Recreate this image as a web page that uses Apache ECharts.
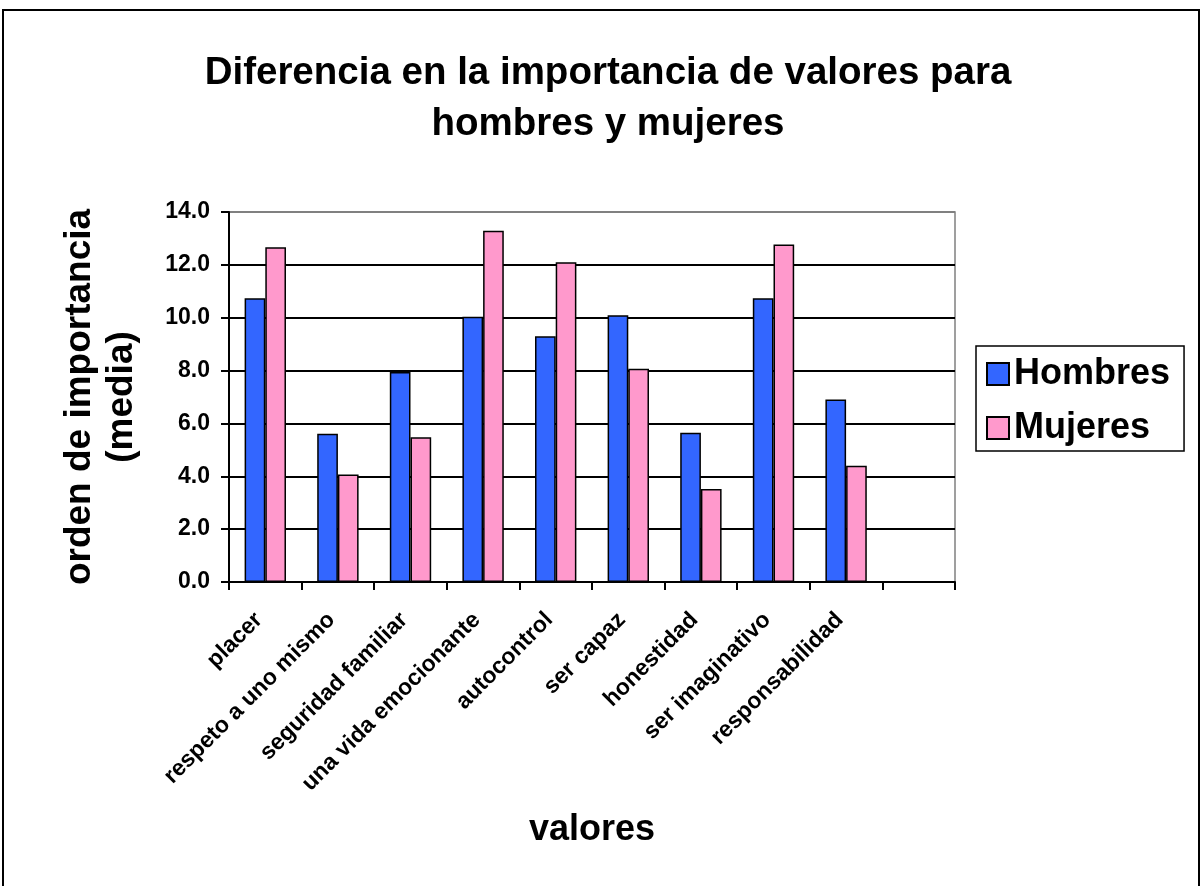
<!DOCTYPE html>
<html>
<head>
<meta charset="utf-8">
<script src="https://cdn.jsdelivr.net/npm/echarts@6/dist/echarts.min.js"></script>
<style>
  html, body { margin: 0; padding: 0; background: #fff; }
  #chart { width: 1202px; height: 886px; }
</style>
</head>
<body>
<div id="chart"></div>
<script>
// categorías (la última columna está vacía en el original)
var categorias = ['placer', 'respeto a uno mismo', 'seguridad familiar', 'una vida emocionante',
  'autocontrol', 'ser capaz', 'honestidad', 'ser imaginativo', 'responsabilidad', ''];
var hombres = [10.74, 5.61, 7.95, 10.04, 9.30, 10.09, 5.65, 10.74, 6.91, '-'];
var mujeres = [12.67, 4.07, 5.48, 13.29, 12.10, 8.07, 3.52, 12.77, 4.40, '-'];
var yTicks = { min: 0, max: 14, interval: 2 };

var fuente = 'Arial, "Liberation Sans", sans-serif';

var chart = echarts.init(document.getElementById('chart'), null, { renderer: 'canvas' });

chart.setOption({
  backgroundColor: '#ffffff',
  animation: false,
  title: {
    text: 'Diferencia en la importancia de valores para\nhombres y mujeres',
    left: 603,
    top: 43,
    textAlign: 'center',
    textStyle: {
      fontFamily: fuente,
      fontWeight: 'bold',
      fontSize: 38.5,
      lineHeight: 51,
      color: '#000'
    }
  },
  legend: {
    orient: 'vertical',
    left: 976,
    top: 346,
    padding: [10, 14, 5, 10],
    borderColor: '#000',
    borderWidth: 1.5,
    itemWidth: 22,
    itemHeight: 22,
    itemGap: 18,
    icon: 'rect',
    textStyle: {
      fontFamily: fuente,
      fontWeight: 'bold',
      fontSize: 36,
      color: '#000'
    },
    data: ['Hombres', 'Mujeres']
  },
  grid: {
    left: 229,
    right: 247,
    top: 212,
    bottom: 304,
    show: true,
    borderColor: '#808080',
    borderWidth: 1.5,
    backgroundColor: '#fff',
    outerBoundsMode: 'none'
  },
  xAxis: {
    type: 'category',
    data: categorias,
    boundaryGap: true,
    name: 'valores',
    nameLocation: 'middle',
    nameGap: 230,
    nameTextStyle: { fontFamily: fuente, fontWeight: 'bold', fontSize: 36, color: '#000' },
    axisLine: { lineStyle: { color: '#000', width: 2 } },
    axisTick: { show: true, length: 8, inside: false, alignWithLabel: false,
      lineStyle: { color: '#000', width: 2 } },
    axisLabel: {
      interval: 0,
      rotate: 45,
      margin: 28,
      padding: [0, 9, 0, 0],
      fontFamily: fuente,
      fontWeight: 'bold',
      fontSize: 23,
      color: '#000'
    },
    splitLine: { show: false }
  },
  yAxis: {
    type: 'value',
    min: yTicks.min,
    max: yTicks.max,
    interval: yTicks.interval,
    name: 'orden de importancia\n(media)',
    nameLocation: 'middle',
    nameRotate: 90,
    nameGap: 86,
    nameTextStyle: { fontFamily: fuente, fontWeight: 'bold', fontSize: 37, lineHeight: 42, color: '#000', align: 'center' },
    axisLine: { show: true, lineStyle: { color: '#000', width: 2 } },
    axisTick: { show: true, length: 8, inside: false, lineStyle: { color: '#000', width: 2 } },
    axisLabel: {
      margin: 19,
      fontFamily: fuente,
      fontWeight: 'bold',
      fontSize: 23,
      color: '#000',
      formatter: function (v) { return v.toFixed(1); }
    },
    splitLine: {
      show: true,
      lineStyle: {
        color: ['#000', '#000', '#000', '#000', '#000', '#000', '#000', '#808080'],
        width: 2
      }
    }
  },
  series: [
    {
      name: 'Hombres',
      type: 'bar',
      data: hombres,
      barGap: '0%',
      barCategoryGap: '43%',
      itemStyle: { color: '#3366FF', borderColor: '#000', borderWidth: 1.5 }
    },
    {
      name: 'Mujeres',
      type: 'bar',
      data: mujeres,
      barGap: '0%',
      barCategoryGap: '43%',
      itemStyle: { color: '#FF99CC', borderColor: '#000', borderWidth: 1.5 }
    }
  ],
  graphic: [
    {
      type: 'rect',
      z: -1,
      silent: true,
      shape: { x: 3, y: 10, width: 1196, height: 900 },
      style: { fill: 'none', stroke: '#000', lineWidth: 2 }
    }
  ]
});
</script>
</body>
</html>
